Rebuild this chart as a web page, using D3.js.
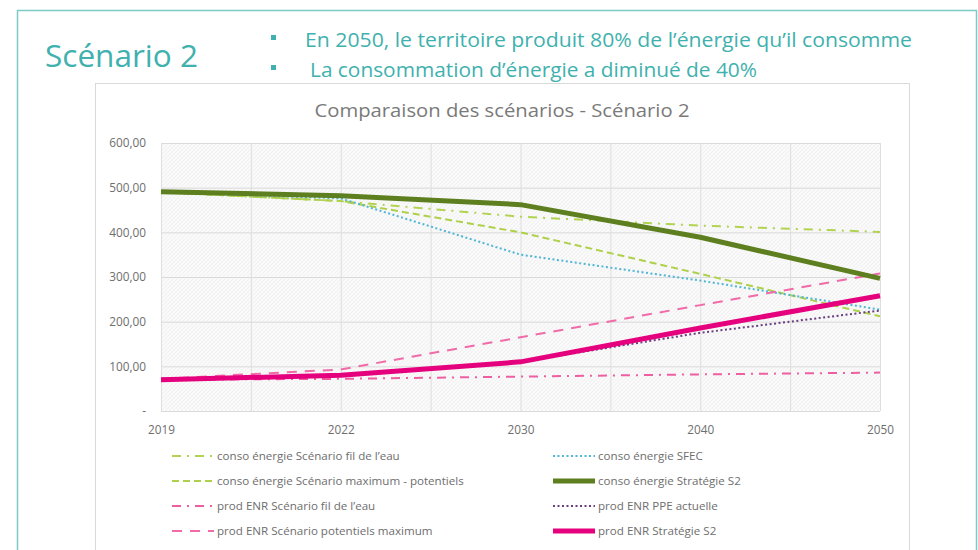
<!DOCTYPE html>
<html>
<head>
<meta charset="utf-8">
<script src="https://cdn.jsdelivr.net/npm/d3@7"></script>
<style>
  html, body { margin: 0; padding: 0; background: #ffffff; }
  svg { display: block; }
</style>
</head>
<body>
<svg id="chart" width="978" height="550"></svg>
<script>
// Years on the category axis
const years = ["2019", "2022", "2030", "2040", "2050"];

// Energy consumption (GWh)
const consoFilEau      = [490, 470, 435, 415, 401];
const consoMaxPot      = [490, 470, 400, 307, 212];
const consoSFEC        = [490, 476, 350, 292, 227];
const consoS2          = [491, 482, 462, 389, 297];

// Renewable production (GWh)
const prodFilEau       = [70, 72, 77, 82, 86];
const prodPotMax       = [72, 93, 165, 237, 308];
const prodPPE          = [70, 80, 110, 175, 225];
const prodS2           = [70, 80, 110, 186, 258];

const yTicks = [0, 100, 200, 300, 400, 500, 600];

const headline = "Scénario 2";
const bullets = [
  "En 2050, le territoire produit 80% de l\u2019énergie qu\u2019il consomme",
  "La consommation d\u2019énergie a diminué de 40%"
];
const chartTitle = "Comparaison des scénarios - Scénario 2";

// Series definitions, in legend order (left column then right column, row by row)
const series = [
  { name: "conso énergie Scénario fil de l\u2019eau", values: consoFilEau, color: "#b2d352", width: 2, dash: "9,6,2,6", col: 0, row: 0 },
  { name: "conso énergie SFEC", values: consoSFEC, color: "#4fb6d6", width: 2, dash: "2,2.5", col: 1, row: 0 },
  { name: "conso énergie Scénario maximum - potentiels", values: consoMaxPot, color: "#aed04a", width: 2, dash: "7,4", col: 0, row: 1 },
  { name: "conso énergie Stratégie S2", values: consoS2, color: "#5e7f1f", width: 5, dash: null, col: 1, row: 1 },
  { name: "prod ENR Scénario fil de l\u2019eau", values: prodFilEau, color: "#ee5fa2", width: 2, dash: "9,6,2,6", col: 0, row: 2 },
  { name: "prod ENR PPE actuelle", values: prodPPE, color: "#6a3f80", width: 2, dash: "2,2.5", col: 1, row: 2 },
  { name: "prod ENR Scénario potentiels maximum", values: prodPotMax, color: "#f06ba8", width: 2, dash: "10,8", col: 0, row: 3 },
  { name: "prod ENR Stratégie S2", values: prodS2, color: "#e5007e", width: 5, dash: null, col: 1, row: 3 }
];

// Draw order: thin lines first, thick strategy lines on top
const drawOrder = [0, 2, 1, 4, 6, 5, 3, 7];

const svg = d3.select("#chart");
const teal = "#3fb1ae";
const grey = "#6e6e6e";
const font = "'Open Sans', Lato, sans-serif";

// Slide frame
svg.append("rect")
  .attr("x", 17.5).attr("y", 10.5).attr("width", 959).attr("height", 560)
  .attr("fill", "none").attr("stroke", "#7cc9c6").attr("stroke-width", 1.5);

// Slide headline and bullet points
svg.append("text")
  .attr("x", 45).attr("y", 67)
  .attr("font-family", font).attr("font-size", 31).attr("fill", teal)
  .attr("textLength", 153).attr("lengthAdjust", "spacingAndGlyphs")
  .text(headline);

const bulletY = [47, 77];
bullets.forEach((t, i) => {
  svg.append("rect")
    .attr("x", 271).attr("y", bulletY[i] - 12).attr("width", 5).attr("height", 5)
    .attr("fill", teal);
  svg.append("text")
    .attr("x", i === 0 ? 305 : 310).attr("y", bulletY[i])
    .attr("font-family", font).attr("font-size", 20).attr("fill", teal)
    .attr("textLength", i === 0 ? 607 : 447).attr("lengthAdjust", "spacingAndGlyphs")
    .text(t);
});

// Chart box
svg.append("rect")
  .attr("x", 95.5).attr("y", 83.5).attr("width", 814).attr("height", 480)
  .attr("fill", "#ffffff").attr("stroke", "#d9d9d9").attr("stroke-width", 1);

svg.append("text")
  .attr("x", 502).attr("y", 117)
  .attr("text-anchor", "middle")
  .attr("font-family", font).attr("font-size", 19).attr("fill", "#7a7a7a")
  .attr("textLength", 375).attr("lengthAdjust", "spacingAndGlyphs")
  .text(chartTitle);

// Scales
const x = d3.scalePoint().domain(years).range([161, 880]);
const y = d3.scaleLinear().domain([0, 600]).range([411, 143]);

// Hatched plot background
const defs = svg.append("defs");
const pat = defs.append("pattern")
  .attr("id", "hatch").attr("patternUnits", "userSpaceOnUse")
  .attr("width", 4).attr("height", 4);
pat.append("rect").attr("width", 4).attr("height", 4).attr("fill", "#fbfbfb");
pat.append("path").attr("d", "M0,4 L4,0 M-1,1 L1,-1 M3,5 L5,3")
  .attr("stroke", "#ebebeb").attr("stroke-width", 0.7);
pat.append("path").attr("d", "M0,0 L4,4 M-1,3 L1,5 M3,-1 L5,1")
  .attr("stroke", "#f0f0f0").attr("stroke-width", 0.5);

svg.append("rect")
  .attr("x", x(years[0])).attr("y", y(600))
  .attr("width", x(years[years.length - 1]) - x(years[0]))
  .attr("height", y(0) - y(600))
  .attr("fill", "url(#hatch)");

// Gridlines: horizontal at each tick, vertical at each category and midway between
const g = svg.append("g");
g.selectAll("line.h").data(yTicks).join("line")
  .attr("x1", x(years[0])).attr("x2", x(years[years.length - 1]))
  .attr("y1", d => y(d) + 0.5).attr("y2", d => y(d) + 0.5)
  .attr("stroke", "#dadada").attr("stroke-width", 1);

const vx = [];
years.forEach((yr, i) => {
  vx.push(x(yr));
  if (i < years.length - 1) vx.push((x(yr) + x(years[i + 1])) / 2);
});
g.selectAll("line.v").data(vx).join("line")
  .attr("x1", d => d + 0.5).attr("x2", d => d + 0.5)
  .attr("y1", y(600)).attr("y2", y(0))
  .attr("stroke", "#dedede").attr("stroke-width", 1);

// Axes
const fr = d3.formatLocale({ decimal: ",", thousands: "\u00a0", grouping: [3], currency: ["", " €"] });
const fmt = fr.format(",.2f");

const yAxis = d3.axisLeft(y).tickValues(yTicks).tickSize(0).tickPadding(15)
  .tickFormat(d => d === 0 ? "-" : fmt(d));
const ya = svg.append("g").attr("transform", `translate(${x(years[0])},0)`).call(yAxis);
ya.select(".domain").remove();
ya.selectAll("text").attr("font-family", font).attr("font-size", 11.8).attr("fill", grey);

const xAxis = d3.axisBottom(x).tickSize(0).tickPadding(15);
const xa = svg.append("g").attr("transform", `translate(0,${y(0)})`).call(xAxis);
xa.select(".domain").remove();
xa.selectAll("text").attr("font-family", font).attr("font-size", 11.8).attr("fill", grey);

// Series lines
const line = d3.line().x((d, i) => x(years[i])).y(d => y(d));
const lines = svg.append("g");
drawOrder.forEach(k => {
  const s = series[k];
  lines.append("path")
    .datum(s.values)
    .attr("d", line)
    .attr("fill", "none")
    .attr("stroke", s.color)
    .attr("stroke-width", s.width)
    .attr("stroke-dasharray", s.dash)
    .attr("stroke-linejoin", "round");
});

// Legend
const legX = [172, 553];
const legY0 = 456, legDy = 25;
const leg = svg.append("g");
series.forEach(s => {
  const lx = legX[s.col], ly = legY0 + s.row * legDy;
  leg.append("line")
    .attr("x1", lx).attr("x2", lx + 42).attr("y1", ly).attr("y2", ly)
    .attr("stroke", s.color).attr("stroke-width", s.width)
    .attr("stroke-dasharray", s.dash);
  leg.append("text")
    .attr("x", lx + 45).attr("y", ly + 4)
    .attr("font-family", font).attr("font-size", 11.6).attr("fill", grey)
    .text(s.name);
});
</script>
</body>
</html>
